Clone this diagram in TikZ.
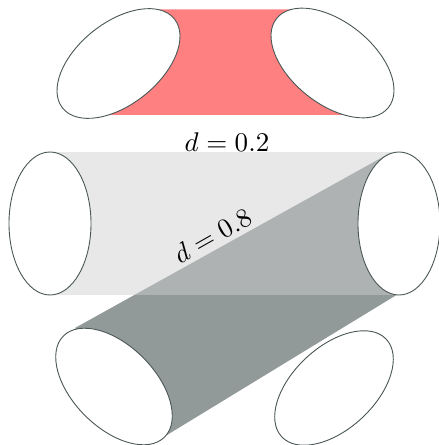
\documentclass[tikz,border=0pt]{standalone}
\definecolor{redfill}{HTML}{FF8080}
\definecolor{darkfill}{HTML}{919999}
\definecolor{lightfill}{HTML}{CFCFCF}
\definecolor{rimline}{HTML}{4A5656}
\tikzset{
  rim/.style={draw=rimline,fill=white,line width=0.9pt},
  lab/.style={anchor=base,inner sep=0pt,scale=2.7}
}
\begin{document}
\begin{tikzpicture}[x=1pt,y=1pt]
\useasboundingbox (0,0) rectangle (439,445);
% band fills
\fill[redfill] (150,435.7) -- (300,435.7) -- (360,330) -- (105,330) -- cycle;
\fill[darkfill] (75,117) -- (390,292) -- (397,150.3) -- (167,10) -- cycle;
\fill[lightfill,opacity=0.48] (50,293) rectangle (399,150.3);
% rims
\draw[rim] (118.5,381.5) ellipse [x radius=71.5,y radius=41,rotate=38.5];
\draw[rim] (332.5,382) ellipse [x radius=71.5,y radius=41,rotate=-38.5];
\draw[rim] (50,221.5) ellipse [x radius=41,y radius=71.5];
\draw[rim] (399,221.5) ellipse [x radius=41,y radius=71.5];
\draw[rim] (114,58.5) ellipse [x radius=71.5,y radius=41,rotate=-45];
\draw[rim] (334,57) ellipse [x radius=71.5,y radius=41,rotate=43];
% labels
\node[lab] (labA) at (227,293.5) {$d=0.2$};
\node[lab,rotate=29.5] (labB) at (217,201.5) {$d=0.8$};
\end{tikzpicture}
\end{document}
